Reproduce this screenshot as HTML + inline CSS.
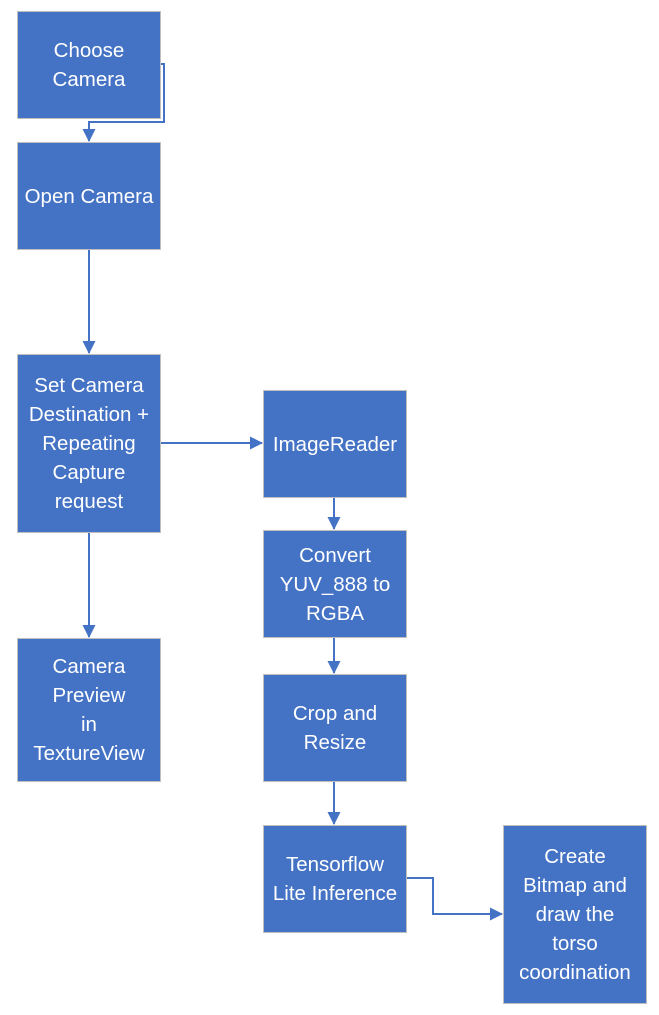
<!DOCTYPE html>
<html><head><style>
body{margin:0;width:659px;height:1015px;background:#fff;position:relative;overflow:hidden;font-family:"Liberation Sans",sans-serif}
.b{position:absolute;background:#4472C4;border:1px solid #BFBFBF;box-sizing:border-box;color:#fff;font-size:20.5px;line-height:29px;text-align:center;display:flex;align-items:center;justify-content:center}
svg{position:absolute;left:0;top:0}
</style></head><body>
<svg width="659" height="1015">
<defs><marker id="a" markerWidth="14" markerHeight="14" refX="12" refY="7" orient="auto" markerUnits="userSpaceOnUse"><path d="M0,0.5L13,7L0,13.5z" fill="#4472C4"/></marker></defs>
<g stroke="#4472C4" stroke-width="2" fill="none" marker-end="url(#a)">
<path d="M160,64H164V122H89V141"/>
<path d="M89,249V353"/>
<path d="M160,443H262"/>
<path d="M89,532V637"/>
<path d="M334,497V529"/>
<path d="M334,637V673"/>
<path d="M334,781V824"/>
<path d="M406,878H433V914H502"/>
</g></svg>
<div class="b" style="left:17px;top:11px;width:144px;height:108px">Choose<br>Camera</div>
<div class="b" style="left:17px;top:142px;width:144px;height:108px">Open Camera</div>
<div class="b" style="left:17px;top:354px;width:144px;height:179px">Set Camera<br>Destination +<br>Repeating<br>Capture<br>request</div>
<div class="b" style="left:17px;top:638px;width:144px;height:144px">Camera<br>Preview<br>in<br>TextureView</div>
<div class="b" style="left:263px;top:390px;width:144px;height:108px">ImageReader</div>
<div class="b" style="left:263px;top:530px;width:144px;height:108px">Convert<br>YUV_888 to<br>RGBA</div>
<div class="b" style="left:263px;top:674px;width:144px;height:108px">Crop and<br>Resize</div>
<div class="b" style="left:263px;top:825px;width:144px;height:108px">Tensorflow<br>Lite Inference</div>
<div class="b" style="left:503px;top:825px;width:144px;height:179px">Create<br>Bitmap and<br>draw the<br>torso<br>coordination</div>
</body></html>
